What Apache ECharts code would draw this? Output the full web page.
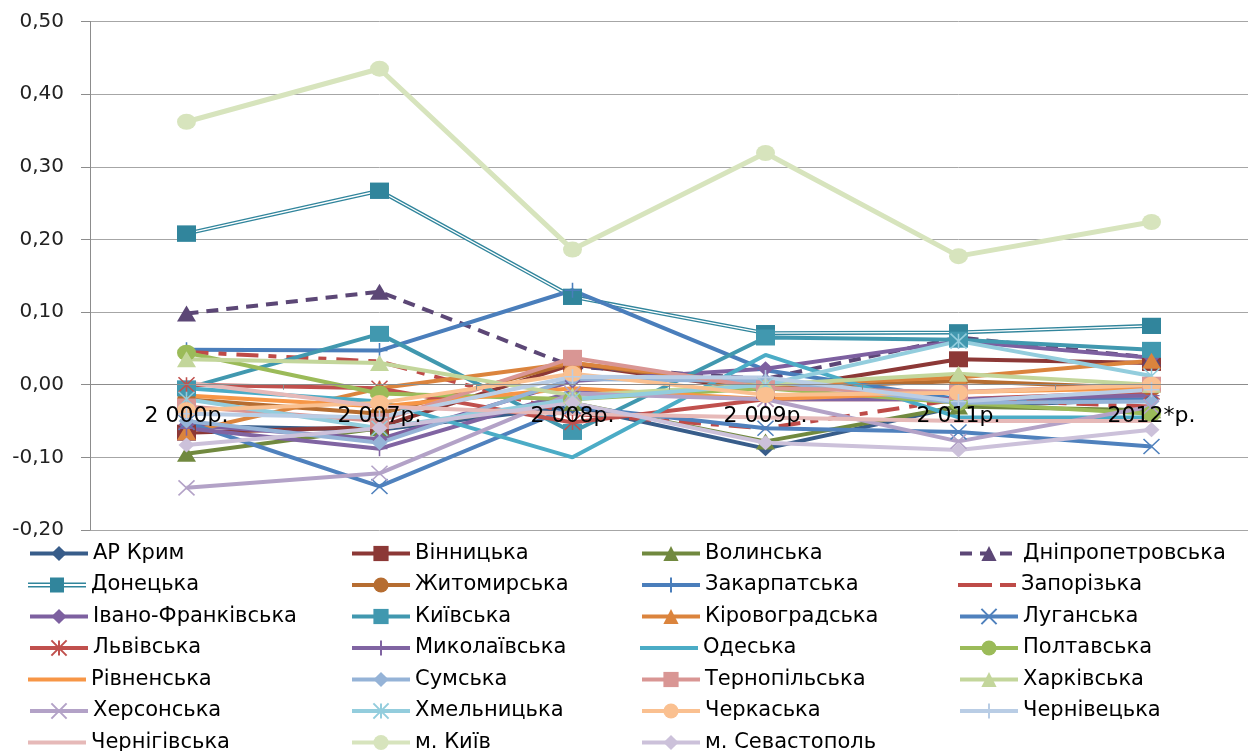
<!DOCTYPE html>
<html>
<head>
<meta charset="utf-8">
<script src="https://cdn.jsdelivr.net/npm/echarts@6/dist/echarts.min.js"></script>
<style>
  html, body { margin: 0; padding: 0; background: #fff; }
  #chart { width: 1248px; height: 751px; }
</style>
</head>
<body>
<div id="chart"></div>
<script>
// роки
var years = ["2 000р.", "2 007р.", "2 008р.", "2 009р.", "2 011р.", "2012*р."];
var yTicks = [-0.2, -0.1, 0, 0.1, 0.2, 0.3, 0.4, 0.5];

// значення по регіонах
var krym       = [-0.057, -0.062, -0.030, -0.088, -0.030, -0.020];
var vinnytsia  = [-0.066, -0.058,  0.028, -0.008,  0.035,  0.030];
var volyn      = [-0.095, -0.060, -0.025, -0.078, -0.030, -0.035];
var dnipro     = [ 0.098,  0.128,  0.025,  0.008,  0.065,  0.037];
var donetsk    = [ 0.208,  0.267,  0.121,  0.071,  0.072,  0.081];
var zhytomyr   = [-0.020, -0.040,  0.030, -0.005,  0.005, -0.005];
var zakarpattia= [ 0.048,  0.047,  0.130,  0.020, -0.020, -0.020];
var zaporizhia = [ 0.045,  0.032, -0.040, -0.060, -0.020, -0.030];
var ivanoFr    = [-0.055, -0.075,  0.005,  0.022,  0.060,  0.037];
var kyivObl    = [-0.005,  0.070, -0.065,  0.065,  0.062,  0.048];
var kirovohrad = [-0.065, -0.005,  0.030,  0.000,  0.010,  0.033];
var luhansk    = [-0.052, -0.140, -0.030, -0.060, -0.065, -0.085];
var lviv       = [ 0.000, -0.005, -0.052, -0.020, -0.020, -0.010];
var mykolaiv   = [-0.060, -0.088, -0.010, -0.020, -0.020, -0.015];
var odesa      = [-0.005, -0.023, -0.100,  0.041, -0.045, -0.045];
var poltava    = [ 0.044, -0.012, -0.020, -0.005, -0.025, -0.040];
var rivne      = [-0.015, -0.030, -0.005, -0.020, -0.010, -0.005];
var sumy       = [-0.050, -0.080,  0.008,  0.005, -0.025, -0.023];
var ternopil   = [-0.030, -0.050,  0.037, -0.005, -0.010,  0.000];
var kharkiv    = [ 0.035,  0.030, -0.015,  0.000,  0.015,  0.000];
var kherson    = [-0.142, -0.122, -0.012, -0.020, -0.078, -0.030];
var khmelnyt   = [-0.020, -0.060, -0.020,  0.000,  0.060,  0.012];
var cherkasy   = [-0.035, -0.025,  0.015, -0.014, -0.011,  0.000];
var chernivtsi = [-0.040, -0.045,  0.011,  0.010, -0.023, -0.007];
var chernihiv  = [ 0.003, -0.030, -0.040, -0.045, -0.050, -0.050];
var kyivCity   = [ 0.362,  0.435,  0.186,  0.319,  0.177,  0.224];
var sevastopol = [-0.083, -0.060, -0.025, -0.080, -0.090, -0.062];

var X = "path://M0,0L10,10M10,0L0,10";
var STAR = "path://M5,0L5,10M0,0L10,10M10,0L0,10";
var PLUS = "path://M5,0L5,10M0,5L10,5";
var BAR = "path://M0,0L58,0L58,4L0,4Z";
var DASHDOT = "path://M0,0L34,0L34,4L0,4ZM42,0L58,0L58,4L42,4Z";
var DOUBLE = "path://M0,5L58,5L58,6.5L0,6.5ZM0,8.5L58,8.5L58,10L0,10ZM22,0L36,0L36,15L22,15Z";

// назва, дані, колір, маркер, тип лінії
var regions = [
  ["АР Крим", krym, "#385D8A", "diamond"],
  ["Вінницька", vinnytsia, "#8C3836", "rect"],
  ["Волинська", volyn, "#71893F", "triangle"],
  ["Дніпропетровська", dnipro, "#5C4776", "triangle", [12, 8]],
  ["Донецька", donetsk, "#31859C", "rect"],
  ["Житомирська", zhytomyr, "#B66D31", "circle"],
  ["Закарпатська", zakarpattia, "#4A7EBB", PLUS],
  ["Запорізька", zaporizhia, "#BE4B48", "none", [22, 10, 8, 10]],
  ["Івано-Франківська", ivanoFr, "#7D60A0", "diamond"],
  ["Київська", kyivObl, "#4198AF", "rect"],
  ["Кіровоградська", kirovohrad, "#DB843D", "triangle"],
  ["Луганська", luhansk, "#4F81BD", X],
  ["Львівська", lviv, "#C0504D", STAR],
  ["Миколаївська", mykolaiv, "#8064A2", PLUS],
  ["Одеська", odesa, "#4BACC6", "none"],
  ["Полтавська", poltava, "#9BBB59", "circle"],
  ["Рівненська", rivne, "#F79646", "none"],
  ["Сумська", sumy, "#95B3D7", "diamond"],
  ["Тернопільська", ternopil, "#D99694", "rect"],
  ["Харківська", kharkiv, "#C3D69B", "triangle"],
  ["Херсонська", kherson, "#B3A2C7", X],
  ["Хмельницька", khmelnyt, "#93CDDD", STAR],
  ["Черкаська", cherkasy, "#FAC090", "circle"],
  ["Чернівецька", chernivtsi, "#B9CDE5", PLUS],
  ["Чернігівська", chernihiv, "#E6B9B8", "none"],
  ["м. Київ", kyivCity, "#D7E4BD", "circle"],
  ["м. Севастополь", sevastopol, "#CCC1DA", "diamond"]
];

function markSize(sym) {
  if (sym === "circle") return [19, 16];
  if (sym === "rect") return [19, 16];
  if (sym === "triangle") return [19, 16];
  if (sym === "diamond") return [16, 15];
  return [16, 15];
}

var series = [];
regions.forEach(function (r) {
  var stroked = r[3].indexOf("path://") === 0;
  series.push({
    name: r[0],
    type: "line",
    data: r[1],
    symbol: r[3],
    symbolSize: markSize(r[3]),
    color: r[2],
    lineStyle: { width: r[0] === "м. Київ" ? 5 : 4, type: r[4] || "solid", color: r[2] },
    itemStyle: stroked ? { color: r[2], borderColor: r[2], borderWidth: 1.5 } : { color: r[2] }
  });
  if (r[0] === "Донецька") {
    // подвійна лінія
    series.push({
      type: "line", data: r[1], symbol: "none", silent: true,
      lineStyle: { width: 1.3, color: "#fff" }
    });
    series.push({
      type: "line", data: r[1], symbol: "rect", symbolSize: markSize("rect"), silent: true,
      lineStyle: { width: 0, opacity: 0 }, itemStyle: { color: r[2] }
    });
  }
});

// легенда: 4 колонки, кожен пункт окремо
var colLeft = [28, 350, 640, 958];
var legends = regions.map(function (r, i) {
  var item = { name: r[0] };
  if (r[3] === "none") item.icon = r[4] ? DASHDOT : BAR;
  if (r[0] === "Донецька") item.icon = DOUBLE;
  return {
    data: [item],
    left: colLeft[i % 4],
    top: 543 + Math.floor(i / 4) * 31.5,
    padding: 0,
    itemWidth: 58,
    itemHeight: 19,
    lineStyle: { width: 4 },
    textStyle: { fontFamily: "DejaVu Sans", fontSize: 21, color: "#000", lineHeight: 19 }
  };
});

var chart = echarts.init(document.getElementById("chart"));
chart.setOption({
  animation: false,
  backgroundColor: "#fff",
  grid: { left: 90, right: 0, top: 21.5, bottom: 221 },
  legend: legends,
  xAxis: {
    type: "category",
    data: years,
    boundaryGap: true,
    offset: -145.3,
    z: 10,
    axisLine: { onZero: false, lineStyle: { color: "#8c8c8c", width: 1 } },
    axisTick: { show: true, length: 5, lineStyle: { color: "#8c8c8c" } },
    axisLabel: { fontFamily: "DejaVu Sans", fontSize: 22, color: "#000", margin: 21 }
  },
  yAxis: {
    type: "value",
    min: yTicks[0],
    max: yTicks[yTicks.length - 1],
    interval: 0.1,
    axisLine: { show: true, lineStyle: { color: "#8c8c8c" } },
    axisTick: { show: true, length: 9, lineStyle: { color: "#8c8c8c" } },
    splitLine: { lineStyle: { color: "#a6a6a6", width: 1 } },
    axisLabel: {
      fontFamily: "DejaVu Sans", fontSize: 20, color: "#222", margin: 26,
      formatter: function (v) { return v.toFixed(2).replace(".", ","); }
    }
  },
  series: series
});
</script>
</body>
</html>
